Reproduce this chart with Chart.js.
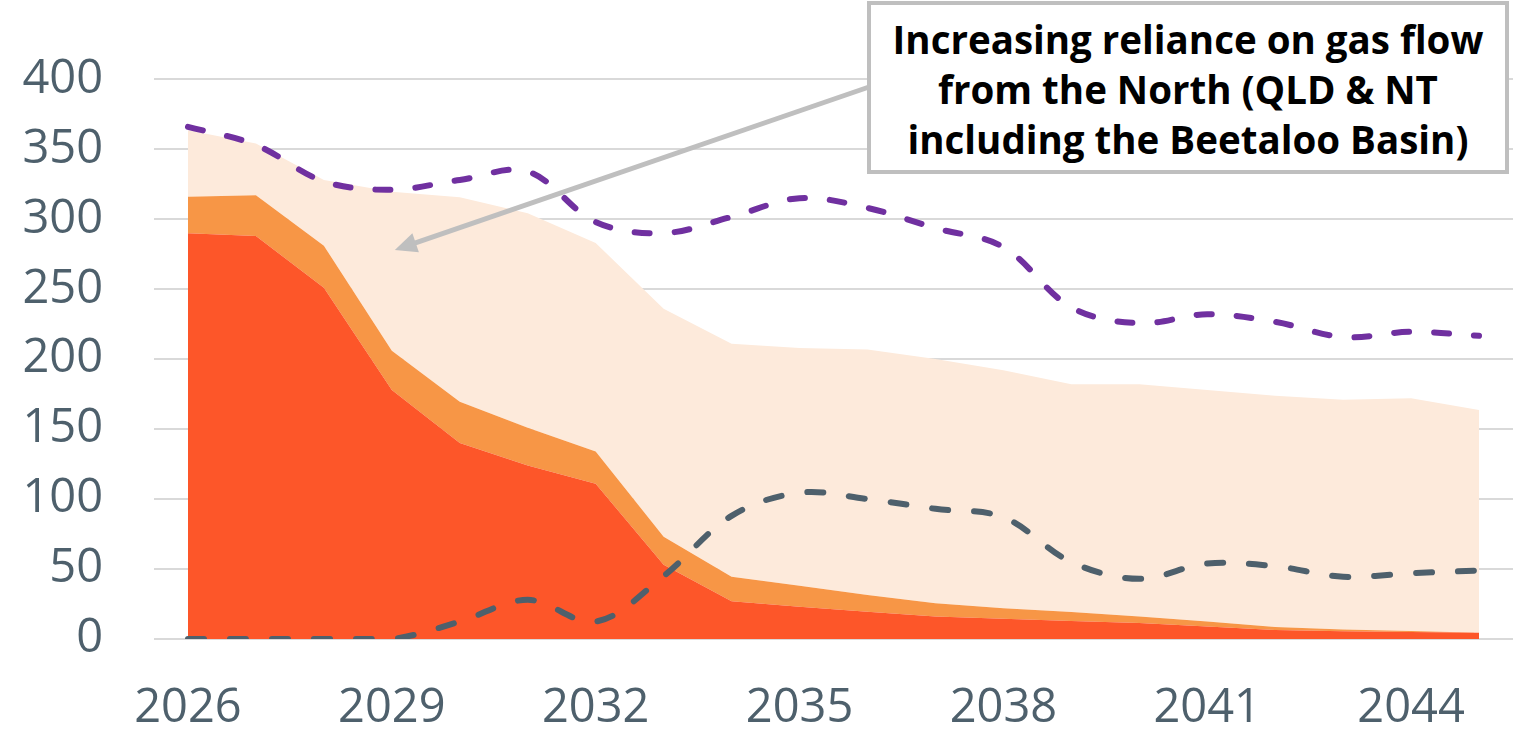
<!DOCTYPE html>
<html>
<head>
<meta charset="utf-8">
<script src="https://cdn.jsdelivr.net/npm/chart.js@4"></script>
<style>
    html, body { margin: 0; padding: 0; background: #ffffff; }
    #wrap { position: relative; width: 1532px; height: 731px; }
    #note {
        position: absolute;
        left: 867px; top: 1px;
        width: 634px; height: 162px;
        border: 4px solid #bfbfbf;
        background: #ffffff;
        font-family: "Open Sans", sans-serif;
        font-weight: bold;
        font-size: 38.5px;
        line-height: 50px;
        color: #000000;
        text-align: center;
        display: flex;
        align-items: center;
        justify-content: center;
        padding-top: 3px;
        box-sizing: content-box;
    }
</style>
</head>
<body>
<div id="wrap">
    <canvas id="gasChart"></canvas>
    <div id="note">Increasing reliance on gas flow<br>from the North (QLD &amp; NT<br>including the Beetaloo Basin)</div>
</div>
<script>
// Years on the category axis
const years = ['2026', '2027', '2028', '2029', '2030', '2031', '2032', '2033', '2034', '2035',
               '2036', '2037', '2038', '2039', '2040', '2041', '2042', '2043', '2044', '2045'];

// Stacked areas (bottom to top)
const southSupply = [290, 288, 251, 178, 140, 124, 111, 53, 27, 23, 19.5, 16, 14.5, 12.8, 11.5, 9, 6.5, 5.5, 5, 4.5];
const otherSupply = [26, 29, 30, 28, 29.5, 27, 23, 20, 17.5, 15, 12, 9.5, 7.5, 6.5, 4.5, 3.5, 2, 1.3, 0.7, 0];
const northFlow = [47.6, 37, 47, 113.5, 146.2, 153.3, 149, 163, 166.5, 170, 175.3, 174.5, 170, 162.7, 166, 165.5, 165.4, 164.2, 166.3, 159.1];

// Dashed lines
const demand = [366, 353, 327, 321, 328, 334, 298, 290, 301.6, 315, 308, 293.6, 280, 237, 225.6, 232, 226.6, 215.7, 219.5, 216.7];
const otherLine = [0, 0, 0, 0, 12.4, 28, 12.4, 45, 88, 104.5, 100, 93, 87, 55, 43, 54, 52, 44.5, 47, 49];

// Y axis ticks
const yTicks = [0, 50, 100, 150, 200, 250, 300, 350, 400];

const tickColor = '#4e606c';
const tickFont = { family: '"Open Sans", sans-serif', size: 47 };

// Arrow from the note box to the area
const arrowPlugin = {
    id: 'noteArrow',
    afterDatasetsDraw(chart) {
        const ctx = chart.ctx;
        const x = chart.scales.x;
        const y = chart.scales.y;
        const tipX = x.getPixelForValue(3) + 3;
        const tipY = y.getPixelForValue(278);
        const startX = 869;
        const startY = 87;
        const ang = Math.atan2(tipY - startY, tipX - startX);
        const headLen = 22;
        const headW = 10;
        const baseX = tipX - headLen * Math.cos(ang);
        const baseY = tipY - headLen * Math.sin(ang);

        ctx.save();
        ctx.strokeStyle = '#bfbfbf';
        ctx.fillStyle = '#bfbfbf';
        ctx.lineWidth = 5;
        ctx.beginPath();
        ctx.moveTo(startX, startY);
        ctx.lineTo(baseX + 4 * Math.cos(ang), baseY + 4 * Math.sin(ang));
        ctx.stroke();

        ctx.beginPath();
        ctx.moveTo(tipX, tipY);
        ctx.lineTo(baseX + headW * Math.sin(ang), baseY - headW * Math.cos(ang));
        ctx.lineTo(baseX - headW * Math.sin(ang), baseY + headW * Math.cos(ang));
        ctx.closePath();
        ctx.fill();
        ctx.restore();
    }
};

const ctx = document.getElementById('gasChart');

new Chart(ctx, {
    type: 'line',
    data: {
        labels: years,
        datasets: [{
            label: 'South',
            data: southSupply,
            stack: 'supply',
            backgroundColor: '#fd5629',
            borderWidth: 0,
            pointRadius: 0,
            fill: 'origin',
            tension: 0
        }, {
            label: 'Other',
            data: otherSupply,
            stack: 'supply',
            backgroundColor: '#f79646',
            borderWidth: 0,
            pointRadius: 0,
            fill: '-1',
            tension: 0
        }, {
            label: 'North',
            data: northFlow,
            stack: 'supply',
            backgroundColor: '#fdeadb',
            borderWidth: 0,
            pointRadius: 0,
            fill: '-1',
            tension: 0
        }, {
            label: 'Demand',
            data: demand,
            stack: 'demand',
            order: -1,
            borderColor: '#7030a0',
            borderWidth: 6,
            borderDash: [15, 25],
            borderCapStyle: 'round',
            pointRadius: 0,
            fill: false,
            tension: 0.35
        }, {
            label: 'Other line',
            data: otherLine,
            stack: 'other',
            order: -1,
            borderColor: '#4e606c',
            borderWidth: 6,
            borderDash: [16, 26],
            borderCapStyle: 'round',
            pointRadius: 0,
            fill: false,
            tension: 0.35
        }]
    },
    options: {
        responsive: true,
        maintainAspectRatio: false,
        animation: false,
        layout: {
            padding: { top: 79, right: 19, left: 0, bottom: 0 }
        },
        plugins: {
            legend: { display: false },
            tooltip: { enabled: false }
        },
        scales: {
            x: {
                offset: true,
                grid: { display: false, drawTicks: false },
                border: { display: false },
                afterFit: (axis) => { axis.height = 92; },
                ticks: {
                    autoSkip: false,
                    maxRotation: 0,
                    color: tickColor,
                    font: tickFont,
                    padding: 41,
                    callback: function(value, index) {
                        return index % 3 === 0 ? years[index] : '';
                    }
                }
            },
            y: {
                stacked: true,
                min: yTicks[0],
                max: yTicks[yTicks.length - 1],
                grid: { color: '#d9d9d9', lineWidth: 2, drawTicks: false },
                border: { display: false },
                afterFit: (axis) => { axis.width = 154; },
                afterBuildTicks: (axis) => {
                    axis.ticks = yTicks.map(v => ({ value: v }));
                },
                ticks: {
                    color: tickColor,
                    font: tickFont,
                    padding: 51
                }
            }
        }
    },
    plugins: [arrowPlugin]
});
</script>
</body>
</html>
